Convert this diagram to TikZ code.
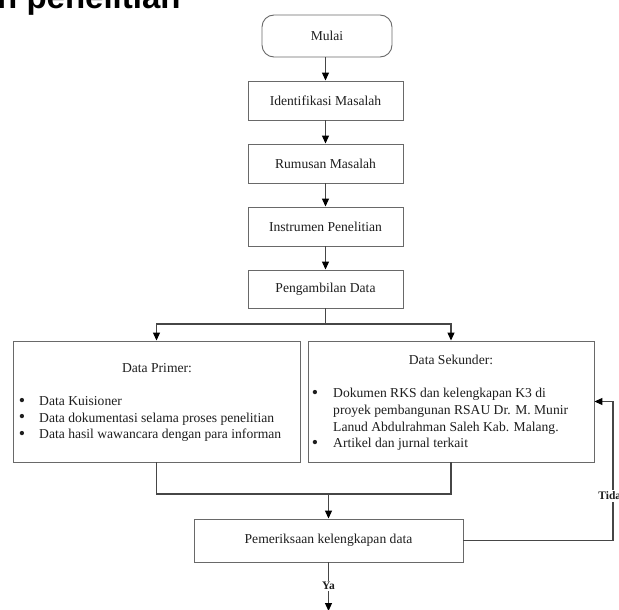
\documentclass[tikz,border=0pt]{standalone}
\usepackage{fontspec}
\setmainfont{Liberation Serif}
\newfontfamily\headfont{Liberation Sans}
\usetikzlibrary{arrows.meta}
\definecolor{boxgray}{RGB}{105,105,105}
\definecolor{linegray}{RGB}{70,70,70}
\definecolor{txt}{RGB}{30,30,30}
\begin{document}
\begin{tikzpicture}[x=1pt,y=-1pt,
  every node/.style={text=txt},
  box/.style={draw=boxgray, line width=0.9pt, fill=white, inner sep=0pt,
    font=\fontsize{13.6}{16.5}\selectfont},
  flow/.style={draw=linegray, line width=1.1pt, -{Triangle[width=7pt,length=8pt,color=black,fill=black]}},
  plain/.style={draw=linegray, line width=1.1pt},
  txtline/.style={anchor=base west, inner sep=0pt, font=\fontsize{13.6}{16.5}\selectfont},
  bul/.style={anchor=base, inner sep=0pt, font=\fontsize{18}{16.5}\selectfont},
  lab/.style={fill=white, inner sep=1.5pt, font=\fontsize{11.5}{13}\selectfont\bfseries}
]
\useasboundingbox (0,0) rectangle (619,610);

% heading (cut off at top)
\node[anchor=base west, inner sep=0pt, text=black, font=\headfont\fontsize{33}{36}\selectfont\bfseries] (head) at (-3,9) {n penelitian};

% top column
\node[box, rounded corners=12pt, minimum width=130pt, minimum height=42pt] (mulai) at (327,36) {Mulai};
\node[box, minimum width=155pt, minimum height=39pt] (ident) at (325.5,100.5) {Identifikasi Masalah};
\node[box, minimum width=155pt, minimum height=39pt] (rumus) at (325.5,163.5) {Rumusan Masalah};
\node[box, minimum width=155pt, minimum height=39pt] (instr) at (325.5,226.5) {Instrumen Penelitian};
\node[box, minimum width=155pt, minimum height=38pt] (peng) at (325.5,289) {Pengambilan Data};

\draw[flow] (mulai.south -| ident.north) -- (ident.north);
\draw[flow] (ident) -- (rumus);
\draw[flow] (rumus) -- (instr);
\draw[flow] (instr) -- (peng);

% data boxes
\node[box, minimum width=287pt, minimum height=121pt] (prim) at (156.5,401.5) {};
\node[box, minimum width=286pt, minimum height=121pt] (sek) at (451,401.5) {};

\node[anchor=base, inner sep=0pt, font=\fontsize{13.6}{16.5}\selectfont] (primt) at (157,372.5) {Data Primer:};
\node[bul] (pb1) at (22,406) {•};
\node[txtline] (p1) at (39,405.5) {Data Kuisioner};
\node[bul] (pb2) at (22,422.5) {•};
\node[txtline] (p2) at (39,422) {Data dokumentasi selama proses penelitian};
\node[bul] (pb3) at (22,439) {•};
\node[txtline] (p3) at (39,438.5) {Data hasil wawancara dengan para informan};

\node[anchor=base, inner sep=0pt, font=\fontsize{13.6}{16.5}\selectfont] (sekt) at (451,364.5) {Data Sekunder:};
\node[bul] (sb1) at (315,398) {•};
\node[txtline] (s1) at (333,397.5) {Dokumen RKS dan kelengkapan K3 di};
\node[txtline] (s2) at (333,414) {proyek pembangunan RSAU Dr. M. Munir};
\node[txtline] (s3) at (333,431) {Lanud Abdulrahman Saleh Kab. Malang.};
\node[bul] (sb2) at (315,448) {•};
\node[txtline] (s4) at (333,447.5) {Artikel dan jurnal terkait};

% split
\coordinate (split) at (325.5,324);
\draw[plain] (peng.south) -- (split);
\draw[flow] (split) -| (prim.north);
\draw[flow] (split) -| (sek.north);

% check box
\node[box, minimum width=269pt, minimum height=43pt] (perik) at (328.5,540.5) {Pemeriksaan kelengkapan data};

% merge
\coordinate (merge) at (328.5,494);
\draw[plain] (prim.south) |- (merge);
\draw[plain] (sek.south) |- (merge);
\draw[flow] (merge) -- (perik.north);

% Tidak loop
\coordinate (tkc) at (613,470);
\draw[flow] (perik.east) -| (tkc) |- (sek.east);
\node[lab] (tidak) at (613,496) {Tidak};

% Ya
\coordinate (ybot) at (328.5,611);
\draw[flow] (perik.south) -- (ybot);
\node[lab] (ya) at (328.5,586) {Ya};
\end{tikzpicture}
\end{document}
